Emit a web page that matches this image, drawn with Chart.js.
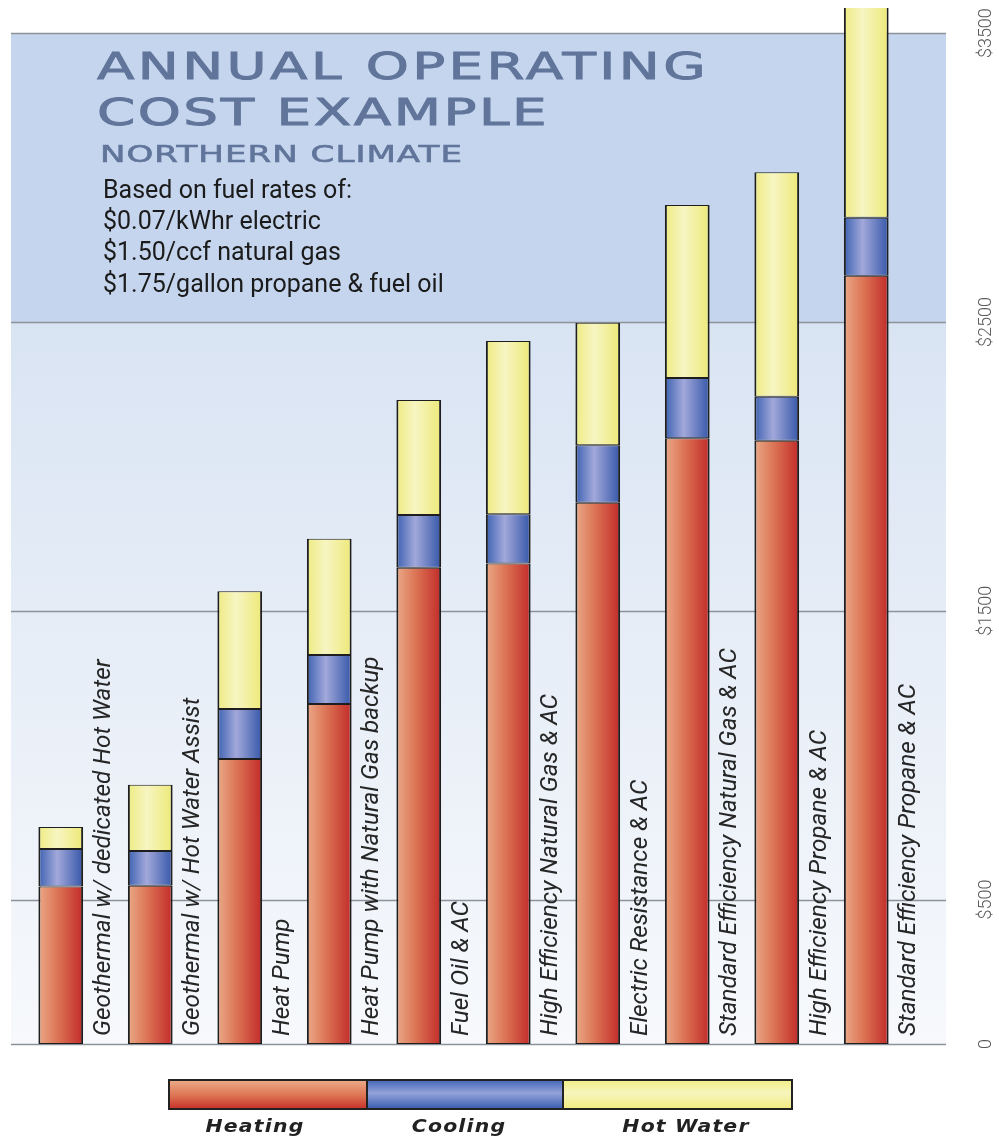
<!DOCTYPE html>
<html>
<head>
<meta charset="utf-8">
<script src="https://cdn.jsdelivr.net/npm/chart.js@4.4.1/dist/chart.umd.min.js"></script>
<style>
  body { margin: 0; background: #fff; }
  #wrap { position: relative; width: 999px; height: 1139px; overflow: hidden; }
  #wrap canvas { position: absolute; left: 0; top: 0; }
  .title { position: absolute; left: 97px; color: #61759b; -webkit-text-stroke: 0.9px #61759b; font-family: "DejaVu Sans", sans-serif; white-space: nowrap; transform-origin: 0 0; transform: scaleX(1.48); }
  .t1 { top: 45px; font-size: 37px; letter-spacing: 2.3px; }
  .t2 { top: 91px; font-size: 37px; letter-spacing: 1.7px; }
  .t3 { top: 141px; font-size: 23px; letter-spacing: 0.7px; left: 100px; -webkit-text-stroke: 0.6px #61759b; }
  .rates { position: absolute; left: 103px; top: 174px; font-family: Roboto, sans-serif; font-size: 25px; line-height: 31.2px; color: #1b1b1b; }
  .legend { position: absolute; left: 168px; top: 1079px; width: 625px; height: 31px; border: 2px solid #222; box-sizing: border-box; display: flex; }
  .legend div { height: 100%; }
  .lbl { position: absolute; top: 1116px; font-family: "DejaVu Sans", sans-serif; font-weight: bold; font-style: italic; font-size: 17px; letter-spacing: 1px; color: #222; transform: translateX(-50%) scaleX(1.2); white-space: nowrap; }
</style>
</head>
<body>
<div id="wrap">
  <canvas id="chart" width="999" height="1139"></canvas>
  <div class="title t1">ANNUAL OPERATING</div>
  <div class="title t2">COST EXAMPLE</div>
  <div class="title t3">NORTHERN CLIMATE</div>
  <div class="rates">Based on fuel rates of:<br>$0.07/kWhr electric<br>$1.50/ccf natural gas<br>$1.75/gallon propane &amp; fuel oil</div>
  <div class="legend">
    <div style="width:196px;background:linear-gradient(#eba884,#dc7252 55%,#c8352b);border-right:2px solid #222"></div>
    <div style="width:194px;background:linear-gradient(#4a6cbb,#94a3da 45%,#3d5fb0);border-right:2px solid #222"></div>
    <div style="flex:1;background:linear-gradient(#f1ee8a,#f7f5bd 45%,#efec82)"></div>
  </div>
  <div class="lbl" style="left:255px">Heating</div>
  <div class="lbl" style="left:459px">Cooling</div>
  <div class="lbl" style="left:686px">Hot Water</div>
</div>
<script>
const categories = [
  'Geothermal w/ dedicated Hot Water',
  'Geothermal w/ Hot Water Assist',
  'Heat Pump',
  'Heat Pump with Natural Gas backup',
  'Fuel Oil & AC',
  'High Efficiency Natural Gas & AC',
  'Electric Resistance & AC',
  'Standard Efficiency Natural Gas & AC',
  'High Efficiency Propane & AC',
  'Standard Efficiency Propane & AC',
];
const heating = [545, 548, 987, 1177, 1649, 1664, 1874, 2097, 2089, 2660];
const cooling = [130, 120, 173, 170, 183, 170, 199, 209, 152, 201];
const hotWater = [76, 230, 408, 402, 398, 600, 424, 599, 777, 760];
const yTicks = [0, 500, 1500, 2500, 3500];
const yTickLabels = ['0', '$500', '$1500', '$2500', '$3500'];

const barFrac = 0.5;

function barFill(stops) {
  return (ctx) => {
    const chart = ctx.chart;
    const x = chart.scales.x;
    const fallback = stops[1][1];
    if (!chart.chartArea || !x) return fallback;
    const c = x.getPixelForValue(ctx.dataIndex);
    const half = (x.width / categories.length) * barFrac / 2;
    if (!isFinite(c) || !isFinite(half) || half <= 0) return fallback;
    const g = chart.ctx.createLinearGradient(c - half, 0, c + half, 0);
    stops.forEach(([o, col]) => g.addColorStop(o, col));
    return g;
  };
}

const backdrop = {
  id: 'backdrop',
  beforeDatasetsDraw(chart) {
    const { ctx } = chart;
    const y = chart.scales.y;
    const left = 11, right = 946;
    const y3500 = y.getPixelForValue(3500);
    const y2500 = y.getPixelForValue(2500);
    const y0 = y.getPixelForValue(0);
    ctx.save();
    ctx.fillStyle = '#c4d5ed';
    ctx.fillRect(left, y3500, right - left, y2500 - y3500);
    const g = ctx.createLinearGradient(0, y2500, 0, y0);
    g.addColorStop(0, '#d9e4f3');
    g.addColorStop(1, '#f7f9fc');
    ctx.fillStyle = g;
    ctx.fillRect(left, y2500, right - left, y0 - y2500);
    ctx.strokeStyle = '#8d929a';
    ctx.lineWidth = 1.5;
    yTicks.forEach((v) => {
      const py = Math.round(y.getPixelForValue(v)) + 0.5;
      ctx.beginPath();
      ctx.moveTo(left, py);
      ctx.lineTo(right, py);
      ctx.stroke();
    });
    ctx.restore();
  },
  afterDatasetsDraw(chart) {
    const { ctx } = chart;
    const x = chart.scales.x;
    const y = chart.scales.y;
    ctx.save();
    ctx.fillStyle = '#262626';
    ctx.font = 'italic 24.3px Roboto, sans-serif';
    ctx.textAlign = 'left';
    ctx.textBaseline = 'middle';
    categories.forEach((label, i) => {
      ctx.save();
      ctx.translate(x.getPixelForValue(i) + 43, y.getPixelForValue(0) - 8);
      ctx.rotate(-Math.PI / 2);
      ctx.fillText(label, 0, 0);
      ctx.restore();
    });
    ctx.fillStyle = '#5a5a5a';
    ctx.font = '300 18px Roboto, sans-serif';
    ctx.textAlign = 'center';
    yTicks.forEach((v, i) => {
      ctx.save();
      ctx.translate(986, y.getPixelForValue(v));
      ctx.rotate(-Math.PI / 2);
      ctx.fillText(yTickLabels[i], 0, 0);
      ctx.restore();
    });
    ctx.restore();
  },
};

const common = {
  borderColor: '#1e1e1e',
  borderWidth: { top: 1, bottom: 1, left: 2, right: 2 },
  borderSkipped: false,
  barPercentage: barFrac,
  categoryPercentage: 1,
  clip: { left: 5, right: 5, top: 0, bottom: 5 },
};

new Chart(document.getElementById('chart'), {
  type: 'bar',
  data: {
    labels: categories,
    datasets: [
      { ...common, label: 'Heating', data: heating,
        backgroundColor: barFill([[0, '#eaa987'], [0.45, '#db7253'], [1, '#c22b29']]) },
      { ...common, label: 'Cooling', data: cooling,
        backgroundColor: barFill([[0, '#3d62b2'], [0.42, '#a2a8da'], [1, '#3557a9']]) },
      { ...common, label: 'Hot Water', data: hotWater,
        backgroundColor: barFill([[0, '#eeeb82'], [0.42, '#f7f5c2'], [1, '#ede978']]) },
    ],
  },
  options: {
    responsive: false,
    animation: false,
    layout: { padding: { left: 16, right: 88, top: 8, bottom: 95 } },
    plugins: { legend: { display: false }, tooltip: { enabled: false } },
    scales: {
      x: { stacked: true, display: false },
      y: {
        stacked: true, display: false, position: 'right', min: 0, max: 3587,
        afterBuildTicks: (scale) => { scale.ticks = yTicks.map((value) => ({ value })); },
      },
    },
  },
  plugins: [backdrop],
});
</script>
</body>
</html>
